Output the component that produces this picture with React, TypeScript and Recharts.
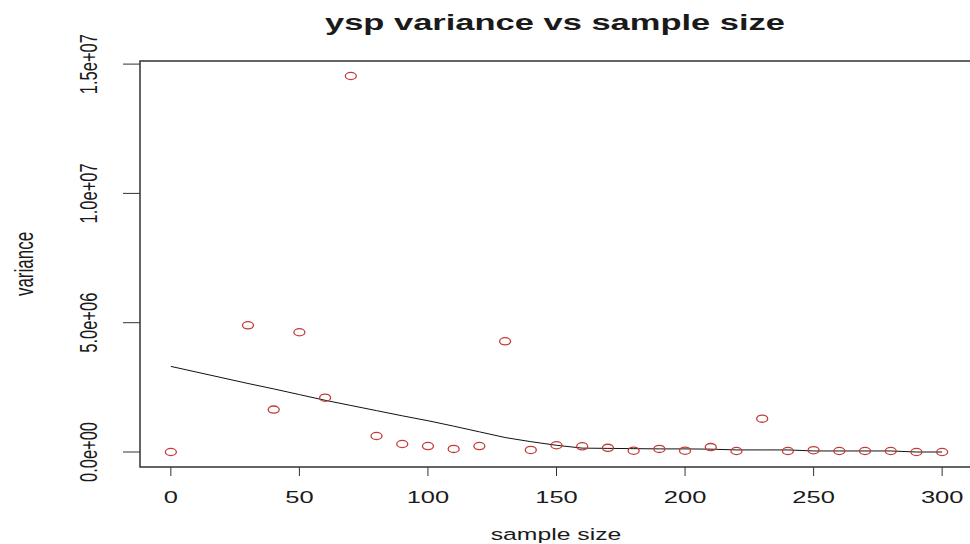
import React from 'react';
import { ComposedChart, Scatter, Line, XAxis, YAxis, ReferenceArea } from 'recharts';

const sampleSizes = [0, 30, 40, 50, 60, 70, 80, 90, 100, 110, 120, 130, 140, 150, 160, 170, 180, 190, 200, 210, 220, 230, 240, 250, 260, 270, 280, 290, 300];
const variances = [0, 4900000, 1640000, 4630000, 2100000, 14540000, 620000, 310000, 230000, 120000, 230000, 4280000, 80000, 260000, 220000, 160000, 50000, 120000, 50000, 190000, 40000, 1290000, 40000, 70000, 40000, 40000, 40000, 0, 0];
const smoothed = [3310000, 2650000, 2440000, 2220000, 2000000, 1800000, 1600000, 1400000, 1210000, 1000000, 780000, 560000, 400000, 260000, 150000, 140000, 130000, 120000, 120000, 110000, 80000, 80000, 80000, 40000, 40000, 40000, 40000, 0, 0];

const xTicks = [0, 50, 100, 150, 200, 250, 300];
const yTicks = [0, 5000000, 10000000, 15000000];
const yTickLabels = ['0.0e+00', '5.0e+06', '1.0e+07', '1.5e+07'];

const title = 'ysp variance vs sample size';
const xTitle = 'sample size';
const yTitle = 'variance';

const points = sampleSizes.map((x, i) => ({ x, y: variances[i] }));
const fit = sampleSizes.map((x, i) => ({ x, y: smoothed[i] }));

// the source image is stretched sideways, so text gets the same stretch
const SX = 1.5;
const FONT = 'Liberation Sans, Arial, sans-serif';

const StretchText = ({ x, y, size, text, rotate, bold }: any) => (
  <text
    transform={`translate(${x},${y}) scale(${SX},1)${rotate ? ' rotate(-90)' : ''}`}
    textAnchor="middle"
    fontFamily={FONT}
    fontSize={size}
    fontWeight={bold ? 'bold' : 'normal'}
    fill="#1a1a1a"
  >
    {text}
  </text>
);

const Ring = (props: any) => {
  const { cx, cy } = props;
  if (cx == null || cy == null) return null;
  return <ellipse cx={cx} cy={cy} rx={5.5} ry={3.6} fill="none" stroke="#c23b3b" strokeWidth={1.3} />;
};

const XTick = (props: any) => (
  <StretchText x={props.x} y={503} size={17} text={String(props.payload.value)} />
);

const YTick = (props: any) => {
  const idx = yTicks.indexOf(props.payload.value);
  return <StretchText x={97} y={props.y} size={16.5} text={yTickLabels[idx]} rotate />;
};

export default function App() {
  return (
    <div style={{ position: 'absolute', left: 0, top: 0, width: 970, height: 544, overflow: 'hidden', background: '#fff' }}>
      <ComposedChart width={990} height={544} margin={{ top: 61, right: 17, bottom: 0, left: 0 }}>
        <XAxis
          type="number"
          dataKey="x"
          domain={[-12, 312]}
          ticks={xTicks}
          allowDataOverflow
          height={77}
          axisLine={false}
          tickSize={9}
          tickLine={{ stroke: '#333' }}
          tick={XTick}
        />
        <YAxis
          type="number"
          dataKey="y"
          domain={[-580000, 15120000]}
          ticks={yTicks}
          allowDataOverflow
          width={140}
          axisLine={false}
          tickSize={17}
          tickLine={{ stroke: '#333' }}
          tick={YTick}
        />
        <ReferenceArea
          x1={-12}
          x2={312}
          y1={-580000}
          y2={15120000}
          fill="none"
          stroke="#333"
          strokeWidth={1.5}
          ifOverflow="visible"
        />
        <Line data={fit} dataKey="y" stroke="#111" strokeWidth={1} dot={false} activeDot={false} type="linear" isAnimationActive={false} />
        <Scatter data={points} dataKey="y" shape={Ring} isAnimationActive={false} />
      </ComposedChart>
      <svg width={970} height={544} style={{ position: 'absolute', left: 0, top: 0, pointerEvents: 'none' }}>
        <StretchText x={555} y={30} size={23} text={title} bold />
        <StretchText x={556} y={540} size={16.5} text={xTitle} />
        <StretchText x={33} y={264} size={17} text={yTitle} rotate />
      </svg>
    </div>
  );
}
